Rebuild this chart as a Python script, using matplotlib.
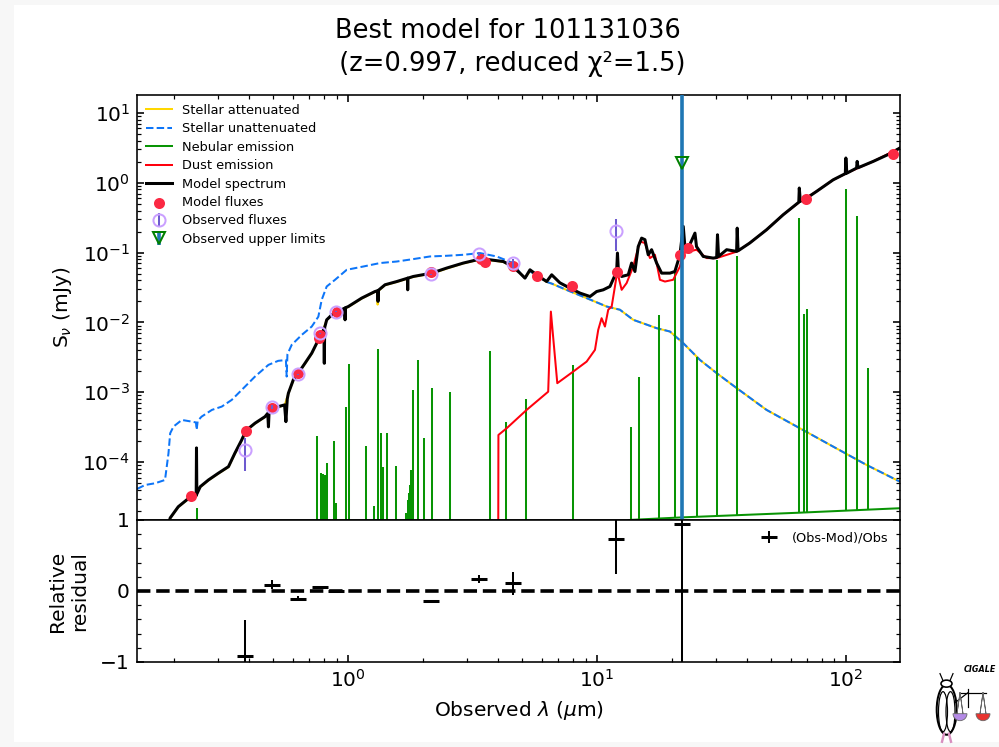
import numpy as np
import matplotlib
matplotlib.use('Agg')
import matplotlib.pyplot as plt
from matplotlib.patches import Ellipse, Wedge, Rectangle

# Values (wavelength in micron, flux in mJy)

# model spectrum (black)
spec_wl = [0.188, 0.193, 0.208, 0.229, 0.237, 0.2455, 0.2462, 0.2470, 0.255, 0.275,
           0.301, 0.331, 0.351, 0.374, 0.389, 0.423, 0.464, 0.476, 0.479, 0.482,
           0.494, 0.525, 0.556, 0.563, 0.570, 0.576, 0.603, 0.631, 0.672, 0.715,
           0.760, 0.784, 0.800, 0.803, 0.806, 0.821, 0.860, 0.901, 0.970, 0.973,
           0.976, 1.003, 1.135, 1.283, 1.318, 1.320, 1.322, 1.408, 1.570, 1.735,
           1.737, 1.739, 1.829, 2.168, 2.490, 2.904, 3.390, 3.718, 4.205, 4.585,
           4.908, 5.139, 5.383, 5.724, 6.28, 6.58, 7.10, 7.79, 8.55, 9.38,
           9.97, 10.60, 11.28, 12.00, 12.09, 12.20, 12.57, 13.36, 13.78, 14.21,
           14.65, 15.12, 15.59, 16.07, 16.58, 17.37, 18.19, 19.65, 20.56, 21.55,
           22.22, 22.56, 23.27, 24.76, 25.12, 26.73, 29.31, 30.27, 30.5, 30.8,
           33.2, 36.4, 36.6, 36.9, 41.1, 48.0, 56.0, 64.7, 65.0, 65.6,
           69.0, 76.2, 88.9, 99.5, 100.0, 100.9, 110.4, 111.0, 112.0, 128.8,
           150.2, 164.8]
spec_flux = [1.1e-5, 1.59e-5, 2.30e-5, 3.04e-5, 3.21e-5, 3.3e-5, 1.6e-4, 3.5e-5, 4.46e-5, 5.56e-5,
             6.93e-5, 8.63e-5, 1.34e-4, 2.08e-4, 2.83e-4, 3.61e-4, 4.48e-4, 5.0e-4, 3.2e-4, 5.4e-4,
             5.92e-4, 6.24e-4, 6.6e-4, 3.8e-4, 8.0e-4, 9.7e-4, 1.51e-3, 1.88e-3, 2.61e-3, 3.63e-3,
             5.63e-3, 7.03e-3, 8.0e-3, 2.6e-3, 8.5e-3, 1.09e-2, 1.28e-2, 1.41e-2, 1.6e-2, 1.09e-2,
             1.62e-2, 1.69e-2, 2.23e-2, 2.77e-2, 2.85e-2, 2.0e-2, 2.87e-2, 3.46e-2, 3.85e-2, 4.3e-2,
             2.93e-2, 4.3e-2, 4.55e-2, 5.08e-2, 6.00e-2, 7.08e-2, 8.07e-2, 7.88e-2, 7.45e-2, 6.32e-2,
             5.08e-2, 4.31e-2, 5.67e-2, 4.81e-2, 3.85e-2, 4.81e-2, 3.69e-2, 3.10e-2, 2.63e-2, 2.35e-2,
             2.77e-2, 2.93e-2, 3.27e-2, 5.36e-2, 9.84e-2, 5.31e-2, 4.55e-2, 4.81e-2, 7.08e-2, 5.36e-2,
             0.122, 0.161, 0.153, 9.30e-2, 0.110, 7.08e-2, 5.08e-2, 5.08e-2, 5.36e-2, 9.30e-2,
             0.237, 0.122, 0.116, 0.190, 0.122, 8.80e-2, 8.34e-2, 8.5e-2, 0.180, 8.8e-2,
             0.110, 0.104, 0.224, 0.106, 0.137, 0.212, 0.348, 0.526, 0.840, 0.543,
             0.590, 0.750, 1.10, 1.35, 2.26, 1.37, 1.62, 2.02, 1.64, 2.02,
             2.60, 3.14]

# stellar unattenuated (blue dashed)
unatt_wl = [0.142, 0.153, 0.168, 0.184, 0.190, 0.193, 0.199, 0.215, 0.236, 0.245,
            0.2465, 0.249, 0.258, 0.284, 0.311, 0.341, 0.386, 0.423, 0.479, 0.524,
            0.563, 0.567, 0.571, 0.594, 0.652, 0.715, 0.760, 0.784, 0.821, 0.887,
            0.988, 1.152, 1.344, 1.570, 1.829, 2.135, 2.490, 2.904, 3.390, 3.955,
            4.61, 4.908, 5.139, 5.383, 5.724, 6.28, 6.58, 7.5, 9.09, 10.94,
            12.37, 13.99, 17.37, 19.65, 22.22, 25.92, 30.27, 36.4, 48.0, 65.3,
            88.9, 121.1, 164.8]
unatt_flux = [4.13e-5, 4.71e-5, 4.99e-5, 5.56e-5, 1.34e-4, 2.59e-4, 3.23e-4, 4.02e-4, 3.80e-4, 3.7e-4,
              2.9e-4, 3.9e-4, 4.48e-4, 5.60e-4, 6.24e-4, 7.78e-4, 1.21e-3, 1.68e-3, 2.47e-3, 2.82e-3,
              2.9e-3, 1.68e-3, 3.5e-3, 4.78e-3, 6.64e-3, 8.73e-3, 1.21e-2, 2.11e-2, 3.27e-2, 4.08e-2,
              5.67e-2, 6.32e-2, 7.08e-2, 7.45e-2, 8.07e-2, 8.80e-2, 9.00e-2, 9.30e-2, 9.84e-2, 8.80e-2,
              7.08e-2, 5.14e-2, 4.31e-2, 5.4e-2, 4.7e-2, 3.8e-2, 3.6e-2, 2.95e-2, 2.23e-2, 1.69e-2,
              1.52e-2, 1.09e-2, 8.28e-3, 7.41e-3, 5.05e-3, 2.91e-3, 1.88e-3, 1.15e-3, 5.60e-4, 3.06e-4,
              1.67e-4, 9.12e-5, 5.26e-5]

# stellar attenuated (gold), mostly hidden under the model spectrum
att_wl = [0.193, 0.208, 0.229, 0.237, 0.255, 0.275, 0.301, 0.331, 0.351, 0.374,
          0.389, 0.423, 0.464, 0.494, 0.525, 0.556, 0.576, 0.603, 0.631, 0.672,
          0.715, 0.760, 0.784, 0.821, 0.860, 0.901, 1.003, 1.135, 1.283, 1.310,
          1.315, 1.320, 1.408, 1.570, 1.829, 2.168, 2.490, 2.904, 3.390, 3.718,
          4.205, 4.585, 4.908, 5.139, 5.383, 5.724, 6.28, 6.58, 7.5, 9.09,
          10.94, 12.37, 13.99, 17.37, 19.65, 22.22, 25.92, 30.27, 36.4, 48.0,
          65.3, 88.9, 121.1, 164.8]
att_flux = [1.57e-5, 2.28e-5, 3.0e-5, 3.18e-5, 4.4e-5, 5.5e-5, 6.85e-5, 8.5e-5, 1.32e-4, 2.05e-4,
            2.8e-4, 3.57e-4, 4.43e-4, 5.85e-4, 6.17e-4, 6.5e-4, 9.6e-4, 1.49e-3, 1.86e-3, 2.58e-3,
            3.59e-3, 5.57e-3, 6.95e-3, 1.08e-2, 1.26e-2, 1.39e-2, 1.67e-2, 2.2e-2, 2.74e-2, 2.78e-2,
            1.8e-2, 2.8e-2, 3.42e-2, 3.8e-2, 4.5e-2, 5.0e-2, 5.9e-2, 7.0e-2, 7.95e-2, 7.8e-2,
            7.35e-2, 6.25e-2, 5.1e-2, 4.31e-2, 5.4e-2, 4.7e-2, 3.8e-2, 3.6e-2, 2.95e-2, 2.23e-2,
            1.69e-2, 1.52e-2, 1.09e-2, 8.28e-3, 7.41e-3, 5.05e-3, 2.91e-3, 1.88e-3, 1.15e-3, 5.60e-4,
            3.06e-4, 1.67e-4, 9.12e-5, 5.26e-5]

# dust emission (red)
dust_wl = [4.00, 4.02, 4.34, 5.22, 6.37, 6.53, 6.93, 8.03, 9.09, 9.82,
           10.12, 10.44, 10.77, 11.10, 11.46, 11.81, 12.07, 12.57, 13.16, 13.99,
           14.88, 15.59, 16.33, 17.10, 17.91, 18.76, 20.24, 21.55, 22.22, 25.12,
           27.6, 30.27, 36.4, 41.1, 48.0, 56.0, 65.3, 76.2, 88.9, 103.7,
           128.8, 164.8]
dust_flux = [1e-8, 2.45e-4, 3.06e-4, 5.60e-4, 1.02e-3, 1.43e-2, 1.35e-3, 1.98e-3, 2.75e-3, 4.05e-3,
             7.83e-3, 1.15e-2, 8.73e-3, 1.52e-2, 1.69e-2, 3.27e-2, 5.31e-2, 2.93e-2, 3.66e-2, 6.32e-2,
             0.144, 0.137, 8.34e-2, 9.30e-2, 4.08e-2, 3.85e-2, 4.08e-2, 6.32e-2, 9.84e-2, 0.110,
             8.34e-2, 8.34e-2, 0.103, 0.137, 0.212, 0.348, 0.534, 0.750, 1.10, 1.44,
             2.02, 3.14]

# nebular emission: continuum and line peaks (green)
neb_cont_wl = [0.142, 5.0, 12.0, 13.6, 22.0, 65.0, 165.0]
neb_cont_flux = [2e-6, 4e-6, 1.3e-5, 1.49e-5, 1.62e-5, 1.89e-5, 2.19e-5]
neb_line_wl = [0.248, 0.753, 0.777, 0.796, 0.809, 0.826, 0.879, 0.898, 0.982, 1.009,
               1.181, 1.268, 1.320, 1.353, 1.386, 1.438, 1.559, 1.706, 1.738, 1.758,
               1.779, 1.796, 1.820, 1.916, 2.014, 2.168, 2.561, 3.727, 4.31, 5.21,
               8.03, 13.74, 14.74, 17.71, 20.65, 25.12, 30.5, 36.6, 65.0, 67.8,
               69.9, 100.0, 111.0, 122.2]
neb_line_peak = [2.21e-5, 2.37e-4, 7.08e-5, 6.78e-5, 6.56e-5, 9.84e-5, 2.03e-4, 2.63e-5, 6.24e-4, 2.55e-3,
                 1.72e-4, 2.36e-5, 4.14e-3, 2.59e-4, 8.63e-5, 2.65e-4, 8.82e-5, 1.87e-5, 2.87e-5, 3.6e-5,
                 4.71e-5, 7.73e-5, 1.08e-3, 2.91e-3, 2.24e-4, 1.17e-3, 1.01e-3, 3.96e-3, 3.80e-4, 7.91e-4,
                 2.47e-3, 3.19e-4, 1.65e-3, 1.26e-2, 5.14e-2, 3.25e-3, 7.71e-2, 8.80e-2, 0.312, 1.33e-2,
                 1.57e-2, 0.820, 0.329, 2.21e-3]

# photometry
mod_wl = [0.235, 0.389, 0.494, 0.631, 0.767, 0.775, 0.901, 2.16, 3.42, 3.55,
          4.59, 5.72, 7.91, 12.0, 21.6, 23.3, 69.0, 155.0]
mod_flux = [3.28e-5, 2.8e-4, 5.9e-4, 1.88e-3, 5.96e-3, 6.6e-3, 1.43e-2, 5.2e-2, 8.0e-2, 7.45e-2,
            6.4e-2, 4.55e-2, 3.27e-2, 5.36e-2, 9.3e-2, 0.116, 0.59, 2.55]
obs_wl = [0.387, 0.496, 0.632, 0.775, 0.897, 2.16, 3.37, 4.61, 11.9]
obs_flux = [1.50e-4, 6.2e-4, 1.80e-3, 7.0e-3, 1.42e-2, 4.9e-2, 9.5e-2, 7.1e-2, 0.207]
obs_err = [7.5e-5, 4e-5, 5e-5, 1e-4, 1.7e-4, 6e-4, 5.7e-3, 1.1e-2, 0.10]
ul_wl = [22.0]
ul_flux = [1.9]
ul_err = [40.0]

# relative residuals (Obs-Mod)/Obs
res_wl = [0.387, 0.496, 0.632, 0.775, 0.897, 2.16, 3.37, 4.61, 11.9, 22.0]
res_val = [-0.915, 0.085, -0.108, 0.052, 0.0, -0.141, 0.169, 0.108, 0.732, 0.944]
res_err = [0.5, 0.063, 0.03, 0.012, 0.012, 0.012, 0.06, 0.16, 0.5, 21.0]

xmin, xmax = 0.142, 165.0
ymin, ymax = 1.49e-5, 18.1

fig = plt.figure(figsize=(1000 / 145, 747 / 145), dpi=145, facecolor='#f7f7f7')
# white page with a thin grey margin, as in the screenshot
fig.patches.append(Rectangle((0.014, 0.0067), 0.986, 0.9866, transform=fig.transFigure,
                             facecolor='white', edgecolor='none', zorder=-10))

ax1 = fig.add_axes([0.137, 0.304, 0.763, 0.569])
ax2 = fig.add_axes([0.137, 0.1138, 0.763, 0.1902], sharex=ax1)

ax1.loglog(att_wl, att_flux, label="Stellar attenuated", color='gold', lw=1.0)
ax1.loglog(unatt_wl, unatt_flux, label="Stellar unattenuated", color='xkcd:deep sky blue',
           ls='--', lw=1.0)
ax1.loglog(neb_cont_wl, neb_cont_flux, label="Nebular emission", color='xkcd:true green', lw=1.0)
line_base = 10 ** np.interp(np.log10(neb_line_wl), np.log10(neb_cont_wl), np.log10(neb_cont_flux))
ax1.vlines(neb_line_wl, line_base, neb_line_peak, color='xkcd:true green', lw=1.0)
ax1.loglog(dust_wl, dust_flux, label="Dust emission", color='xkcd:bright red', lw=1.0)
ax1.loglog(spec_wl, spec_flux, label="Model spectrum", color='k', lw=1.5)

ax1.scatter(mod_wl, mod_flux, marker='o', color='xkcd:strawberry', s=20, zorder=3,
            label="Model fluxes")
ax1.errorbar(obs_wl, obs_flux, yerr=obs_err, ls='', marker='o', label="Observed fluxes",
             markerfacecolor='None', markersize=6, markeredgecolor='xkcd:pastel purple',
             color='xkcd:light indigo', capsize=0., zorder=3, lw=1)
ax1.errorbar(ul_wl, ul_flux, yerr=ul_err, ls='', marker='v', label="Observed upper limits",
             markerfacecolor='None', markersize=6, markeredgecolor='g', capsize=0.,
             elinewidth=1.8, zorder=3)

ax1.set_xlim(xmin, xmax)
ax1.set_ylim(ymin, ymax)
ax1.set_ylabel(r"S$_\nu$ (mJy)")
ax1.tick_params(direction='in', axis='both', which='both', top=True, left=True,
                right=True, bottom=False)
ax1.tick_params(which='minor', labelleft=False, labelbottom=False)
plt.setp(ax1.get_xticklabels(), visible=False)
ax1.legend(fontsize=6.4, loc='upper left', frameon=False, labelspacing=0.42,
           borderaxespad=0.3)

ax2.errorbar(res_wl, res_val, yerr=res_err, marker='_', label="(Obs-Mod)/Obs", color='k',
             capsize=0., ls='None', lw=1, markersize=8, mew=1.5)
ax2.plot([xmin, xmax], [0., 0.], ls='--', color='k', lw=1.8)
ax2.set_xscale('log')
ax2.minorticks_on()
ax2.set_xlim(xmin, xmax)
ax2.set_ylim(-1.0, 1.0)
ax2.set_yticks([-1, 0, 1])
ax2.tick_params(direction='in', axis='both', which='both', right=True)
ax2.tick_params(which='minor', labelleft=False, labelbottom=False)
ax2.set_ylabel("Relative\nresidual", labelpad=5.5)
ax2.set_xlabel(r"Observed $\lambda$ ($\mu$m)")
ax2.legend(fontsize=6.4, loc='upper right', frameon=False)

fig.suptitle("Best model for 101131036\n (z=0.997, reduced χ²=1.5)", fontsize=12.8,
             x=0.508, y=0.976, va='top', linespacing=1.35)

# small CIGALE logo in the lower right corner
logo = fig.add_axes([0.93, 0.003, 0.07, 0.11])
logo.set_xlim(0, 70)
logo.set_ylim(0, 82)
logo.axis('off')
logo.add_patch(Ellipse((16.7, 35), 20, 50, fc='white', ec='k', lw=1.0))
logo.add_patch(Ellipse((13, 33), 9, 40, fc='none', ec='k', lw=0.6))
logo.add_patch(Ellipse((20.5, 33), 9, 40, fc='none', ec='k', lw=0.6))
logo.add_patch(Ellipse((16.5, 61), 11, 7, fc='white', ec='k', lw=0.8))
logo.plot([13, 10], [64, 71], color='k', lw=0.6)
logo.plot([20, 23], [64, 71], color='k', lw=0.6)
logo.plot([14, 12], [11, 3], color='#d88fbf', lw=1.2)
logo.plot([19, 21], [11, 3], color='#d88fbf', lw=1.2)
logo.plot([25, 38], [42, 52], color='k', lw=0.6)
logo.plot([38, 38], [38, 56], color='k', lw=0.6)
logo.plot([30, 56], [52, 52], color='k', lw=0.6)
logo.plot([30, 27, 30, 33, 30], [52, 31, 52, 31, 52], color='0.4', lw=0.4)
logo.plot([53, 50, 53, 56, 53], [52, 31, 52, 31, 52], color='0.4', lw=0.4)
logo.add_patch(Wedge((30, 31), 7, 180, 360, fc='#b48ae6', ec='0.4', lw=0.4))
logo.add_patch(Wedge((53, 31), 7, 180, 360, fc='#e8342f', ec='0.4', lw=0.4))
logo.text(50, 75, "CIGALE", fontsize=4, fontweight='bold', fontstyle='italic',
          ha='center', va='center')

fig.savefig('out.png', dpi=145, facecolor=fig.get_facecolor())
